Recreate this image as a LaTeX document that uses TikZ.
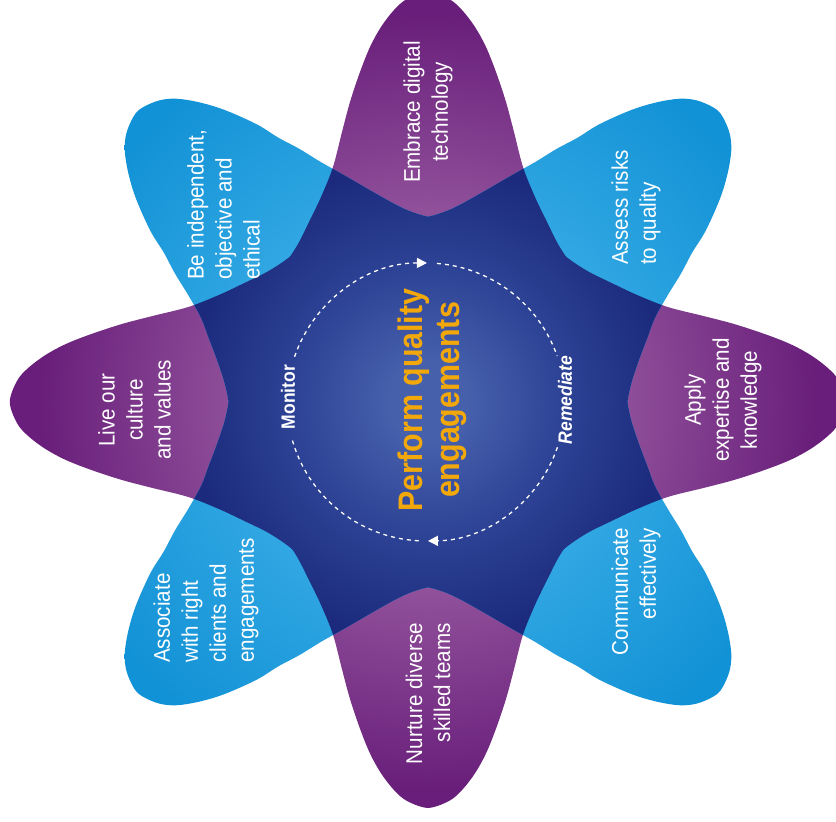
\documentclass[tikz,border=0pt]{standalone}
\usepackage{fontspec}
\setmainfont{Liberation Sans}
\usetikzlibrary{arrows.meta,calc}

% palette
\definecolor{navyin}{RGB}{70,96,172}
\definecolor{navymid}{RGB}{46,68,150}
\definecolor{navyout}{RGB}{27,42,124}
\definecolor{purplein}{RGB}{144,80,154}
\definecolor{purpleout}{RGB}{104,30,122}
\definecolor{bluein}{RGB}{48,166,226}
\definecolor{blueout}{RGB}{18,146,214}
\definecolor{titleorange}{RGB}{242,168,10}

% radial glows, all centred on the hub of the flower
% (filled into a circle of radius 500, so 1bp of the shading is 20pt)
\pgfdeclareradialshading{navyglow}{\pgfpoint{0bp}{0bp}}{color(0bp)=(navyin); color(2bp)=(navyin); color(6.5bp)=(navymid); color(12bp)=(navyout); color(50bp)=(navyout)}
\pgfdeclareradialshading{purpleglow}{\pgfpoint{0bp}{0bp}}{color(0bp)=(purplein); color(9.5bp)=(purplein); color(19.5bp)=(purpleout); color(50bp)=(purpleout)}
\pgfdeclareradialshading{blueglow}{\pgfpoint{0bp}{0bp}}{color(0bp)=(bluein); color(10.5bp)=(bluein); color(19.5bp)=(blueout); color(50bp)=(blueout)}

% petal outlines, drawn along +x from just behind the hub
\newcommand{\purplepetal}{(-30,0) -- plot[smooth, tension=0.55] coordinates {(126,153) (141,141) (158,130) (180,119) (205,107) (235,95) (270,86) (300,78) (330,68) (355,58) (375,47) (392,34) (403,21) (410,0) (403,-21) (392,-34) (375,-47) (355,-58) (330,-68) (300,-78) (270,-86) (235,-95) (205,-107) (180,-119) (158,-130) (141,-141) (126,-153)} -- cycle}
% the diagonal petals are a little narrower on the side that faces N or S
\newcommand{\bluepetal}{(-30,0) -- plot[smooth, tension=0.55] coordinates {(115,143) (131,131) (148,122) (165,116) (190,109) (220,101) (245,94) (270,88) (293,81) (315,76) (340,67) (360,58) (380,46) (395,34) (405,20) (411,0) (405,-20) (395,-34) (380,-46) (360,-58) (340,-67) (315,-76) (293,-81) (270,-88) (245,-94) (220,-101) (200,-110) (180,-119) (158,-130) (141,-141) (126,-153)} -- cycle}

\tikzset{
  petaltext/.style={text=white, rotate=90, yscale=1.1, inner sep=0pt,
    font=\fontsize{20.6}{25.5}\selectfont},
  titletext/.style={text=titleorange, rotate=90, yscale=1.12, inner sep=0pt, align=center,
    font=\bfseries\fontsize{30.4}{33}\selectfont},
  cyclelabel/.style={text=white, rotate=90, yscale=1.1, inner sep=0pt,
    font=\bfseries\fontsize{17.5}{20}\selectfont},
  cycleline/.style={white, line width=1.3pt, dash pattern=on 4pt off 4pt},
  cyclearrow/.style={-{Triangle[length=10pt,width=10pt]}}
}

\begin{document}
\begin{tikzpicture}[x=1pt,y=1pt]
  \useasboundingbox (0,0) rectangle (836,822);
  \fill[white] (0,0) rectangle (836,822);
  \clip (0,0) rectangle (836,822);

  \coordinate (c) at (428,420);

  % purple petals (N, S, E, W): angle / length
  \foreach \a/\s in {90/1, 270/0.99, 0/1.02, 180/1.02} {
    \begin{scope}
      \clip[shift={(c)}, rotate=\a, xscale=\s] \purplepetal;
      \shade[shading=purpleglow] (c) circle (500);
    \end{scope}
  }
  % blue petals (diagonals): angle / mirror
  \foreach \b/\m in {45/1, 135/-1, 225/1, 315/-1} {
    \begin{scope}
      \clip[shift={(c)}, rotate=\b, yscale=\m] \bluepetal;
      \shade[shading=blueglow] (c) circle (500);
    \end{scope}
  }
  % navy hub: every overlap of neighbouring petals
  % (purple angle / length / mirror of the petal at +45 / mirror of the petal at -45)
  \foreach \a/\s/\ma/\mb in {90/1/-1/1, 270/0.99/-1/1, 0/1.02/1/-1, 180/1.02/1/-1} {
    \begin{scope}
      \clip[shift={(c)}, rotate=\a, xscale=\s] \purplepetal;
      \clip[shift={(c)}, rotate=\a+45, yscale=\ma] \bluepetal;
      \shade[shading=navyglow] (c) circle (500);
    \end{scope}
    \begin{scope}
      \clip[shift={(c)}, rotate=\a, xscale=\s] \purplepetal;
      \clip[shift={(c)}, rotate=\a-45, yscale=\mb] \bluepetal;
      \shade[shading=navyglow] (c) circle (500);
    \end{scope}
  }
  \begin{scope}
    \clip (c) circle (150);
    \shade[shading=navyglow] (c) circle (500);
  \end{scope}

  % petal labels
  \node[petaltext, align=center] (embrace) at (428,710) {Embrace digital\\technology};
  \node[petaltext, align=left, anchor=west] (assess) at (636,557) {Assess risks\\to quality};
  \node[petaltext, align=center] (apply) at (723,422) {Apply\\expertise and\\knowledge};
  \node[petaltext, align=right, anchor=east] (communicate) at (636,294) {Communicate\\effectively};
  \node[petaltext, align=right, anchor=east] (nurture) at (428,199) {Nurture diverse\\skilled teams};
  \node[petaltext, align=left, anchor=west] (associate) at (206,159) {Associate\\with right\\clients and\\engagements};
  \node[petaltext, align=center] (live) at (134.5,412) {Live our\\culture\\and values};
  \node[petaltext, align=left, anchor=west] (independent) at (223.5,542) {Be independent,\\objective and\\ethical};

  % hub
  \node[titletext] (title) at (432,422) {Perform quality\\engagements};
  \node[cyclelabel] (monitor) at (288,425) {Monitor};
  \node[cyclelabel, font=\bfseries\itshape\fontsize{17.5}{20}\selectfont] (remediate) at (565,422) {Remediate};

  % monitor / remediate cycle
  \coordinate (o) at (426,420);
  \coordinate (m1) at ($(o)+(161:139)$);
  \coordinate (t2) at ($(o)+(85.5:139)$);
  \coordinate (r1) at ($(o)+(-19:139)$);
  \coordinate (b2) at ($(o)+(-93:139)$);
  \draw[cycleline, cyclearrow] (m1) arc[start angle=161, end angle=89.6, radius=139];
  \draw[cycleline] (t2) arc[start angle=85.5, end angle=19.3, radius=139];
  \draw[cycleline, cyclearrow] (r1) arc[start angle=-19, end angle=-89.2, radius=139];
  \draw[cycleline] (b2) arc[start angle=-93, end angle=-165.5, radius=139];
\end{tikzpicture}
\end{document}
